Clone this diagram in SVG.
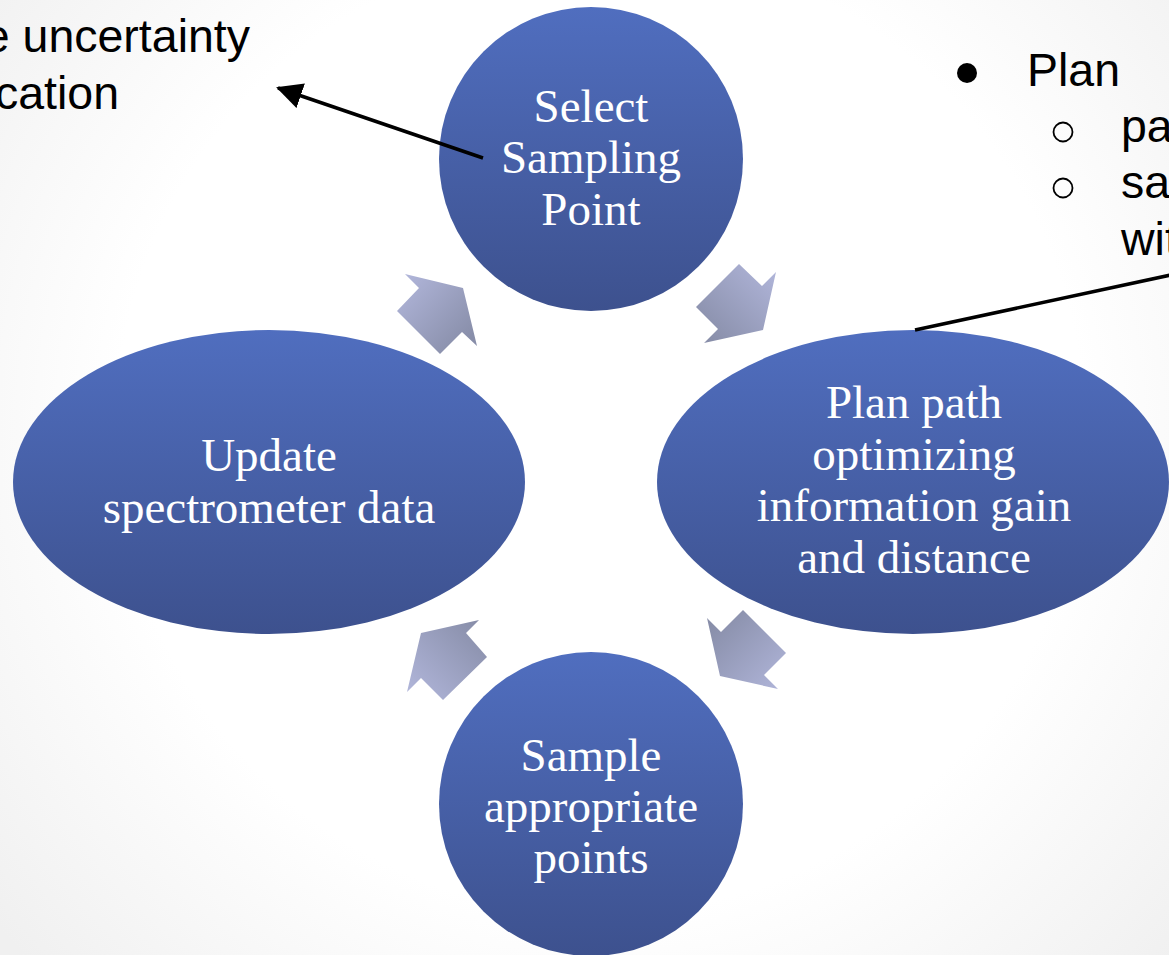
<svg xmlns="http://www.w3.org/2000/svg" width="1169" height="955" viewBox="0 0 1169 955">
  <defs>
    <radialGradient id="bg" cx="600" cy="430" r="780" gradientUnits="userSpaceOnUse">
      <stop offset="0" stop-color="#ffffff"/>
      <stop offset="0.62" stop-color="#ffffff"/>
      <stop offset="1" stop-color="#f0f0f0"/>
    </radialGradient>
    <linearGradient id="nodeFill" x1="0" y1="0" x2="0" y2="1">
      <stop offset="0" stop-color="#506ebf"/>
      <stop offset="1" stop-color="#3d518e"/>
    </linearGradient>
    <linearGradient id="arrTL" x1="400" y1="285" x2="465" y2="345" gradientUnits="userSpaceOnUse">
      <stop offset="0" stop-color="#afb4d8"/>
      <stop offset="1" stop-color="#888ea9"/>
    </linearGradient>
    <linearGradient id="arrTR" x1="772" y1="270" x2="705" y2="337" gradientUnits="userSpaceOnUse">
      <stop offset="0" stop-color="#afb4d8"/>
      <stop offset="1" stop-color="#888ea9"/>
    </linearGradient>
    <linearGradient id="arrBR" x1="780" y1="688" x2="713" y2="622" gradientUnits="userSpaceOnUse">
      <stop offset="0" stop-color="#afb4d8"/>
      <stop offset="1" stop-color="#888ea9"/>
    </linearGradient>
    <linearGradient id="arrBL" x1="412" y1="692" x2="480" y2="625" gradientUnits="userSpaceOnUse">
      <stop offset="0" stop-color="#afb4d8"/>
      <stop offset="1" stop-color="#888ea9"/>
    </linearGradient>
    <marker id="head" viewBox="0 0 26 26" refX="24" refY="13" markerWidth="26" markerHeight="26" markerUnits="userSpaceOnUse" orient="auto">
      <path d="M0,0 L26,13 L0,26 Z" fill="#000"/>
    </marker>
    <style>
      .node { fill: url(#nodeFill); }
      .label { font-family: "Liberation Serif", "Times New Roman", serif; font-size: 47px; fill: #ffffff; text-anchor: middle; }
      .note { font-family: "Liberation Sans", Arial, sans-serif; font-size: 46.5px; fill: #000000; }
      .link { stroke: #000; stroke-width: 3.5; fill: none; }
    </style>
  </defs>

  <!-- page background -->
  <rect x="0" y="0" width="1169" height="955" fill="url(#bg)"/>

  <!-- side notes -->
  <g id="note-left">
    <text class="note" x="250" y="52" text-anchor="end">e uncertainty</text>
    <text class="note" x="119" y="109" text-anchor="end">cation</text>
  </g>
  <g id="note-right">
    <circle cx="967" cy="73" r="10" fill="#000"/>
    <text class="note" x="1027" y="86">Plan</text>
    <circle cx="1063" cy="132" r="9.5" fill="none" stroke="#000" stroke-width="1.8"/>
    <text class="note" x="1121" y="142">pa</text>
    <circle cx="1063" cy="188" r="9.5" fill="none" stroke="#000" stroke-width="1.8"/>
    <text class="note" x="1121" y="198">sa</text>
    <text class="note" x="1121" y="255">wit</text>
  </g>

  <!-- cycle arrows between steps -->
  <g id="cycle-arrows">
    <polygon points="405,274 463,288 477,346 462,332 440,354 397,311 419,288" fill="url(#arrTL)"/>
    <polygon points="776,272 763,330 704,343 718,329 696,307 739,264 762,286" fill="url(#arrTR)"/>
    <polygon points="707,618 721,632 743,610 786,653 764,675 778,689 720,676" fill="url(#arrBR)"/>
    <polygon points="479,620 466,633 487,657 443,700 421,678 407,692 421,633" fill="url(#arrBL)"/>
  </g>

  <!-- steps -->
  <g id="node-select">
    <circle class="node" cx="591" cy="159" r="152"/>
    <text class="label" x="591" y="122">Select</text>
    <text class="label" x="591" y="173">Sampling</text>
    <text class="label" x="591" y="225">Point</text>
  </g>
  <g id="node-plan">
    <ellipse class="node" cx="913" cy="482" rx="256" ry="152"/>
    <text class="label" x="914" y="418">Plan path</text>
    <text class="label" x="914" y="470">optimizing</text>
    <text class="label" x="914" y="521">information gain</text>
    <text class="label" x="914" y="573">and distance</text>
  </g>
  <g id="node-sample">
    <circle class="node" cx="591" cy="804" r="152"/>
    <text class="label" x="591" y="771">Sample</text>
    <text class="label" x="591" y="822">appropriate</text>
    <text class="label" x="591" y="873">points</text>
  </g>
  <g id="node-update">
    <ellipse class="node" cx="269" cy="482" rx="256" ry="152"/>
    <text class="label" x="269" y="471">Update</text>
    <text class="label" x="269" y="523">spectrometer data</text>
  </g>

  <!-- callout connectors -->
  <g id="connectors">
    <line class="link" x1="483" y1="158" x2="278" y2="88" marker-end="url(#head)"/>
    <line class="link" x1="915" y1="330" x2="1180" y2="273"/>
  </g>
</svg>
